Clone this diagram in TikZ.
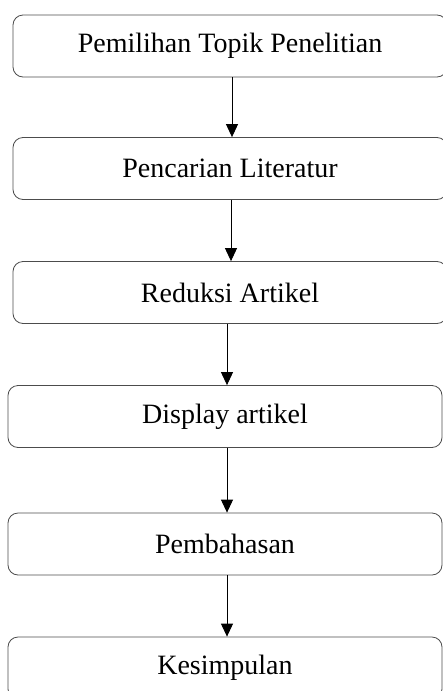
\documentclass[tikz,border=0pt]{standalone}
\usepackage{fontspec}
\setmainfont{Liberation Serif}
\usetikzlibrary{arrows.meta}
\tikzset{
  stage/.style={draw=black!70,line width=0.8pt,rounded corners=10pt,
    minimum width=434pt,minimum height=62pt,inner sep=0pt,
    font=\fontsize{28}{31}\selectfont},
  flow/.style={line width=0.9pt,-{Triangle[length=13pt,width=12pt]}}
}
\begin{document}
\begin{tikzpicture}[x=1pt,y=1pt]
        \useasboundingbox (0,0) rectangle (443,-691);
        \clip (0,0) rectangle (443,-691);
        %% stages
        \node[stage] (topik) at (230,-46) {Pemilihan Topik Penelitian};
        \node[stage] (cari) at (230,-168.5) {Pencarian Literatur};
        \node[stage] (reduksi) at (230,-292.5) {Reduksi Artikel};
        \node[stage] (display) at (225,-416.5) {Display artikel};
        \node[stage] (bahas) at (225,-544) {Pembahasan};
        \node[stage] (simpul) at (225,-668) {Kesimpulan};
        %% arrows
        \draw[flow] ([xshift=2pt]topik.south) -- ([xshift=2pt]cari.north);
        \draw[flow] ([xshift=1pt]cari.south) -- ([xshift=1pt]reduksi.north);
        \draw[flow] ([xshift=2pt]display.north |- reduksi.south) -- ([xshift=2pt]display.north);
        \draw[flow] ([xshift=2pt]display.south) -- ([xshift=2pt]bahas.north);
        \draw[flow] ([xshift=2pt]bahas.south) -- ([xshift=2pt]simpul.north);
    \end{tikzpicture}
\end{document}
